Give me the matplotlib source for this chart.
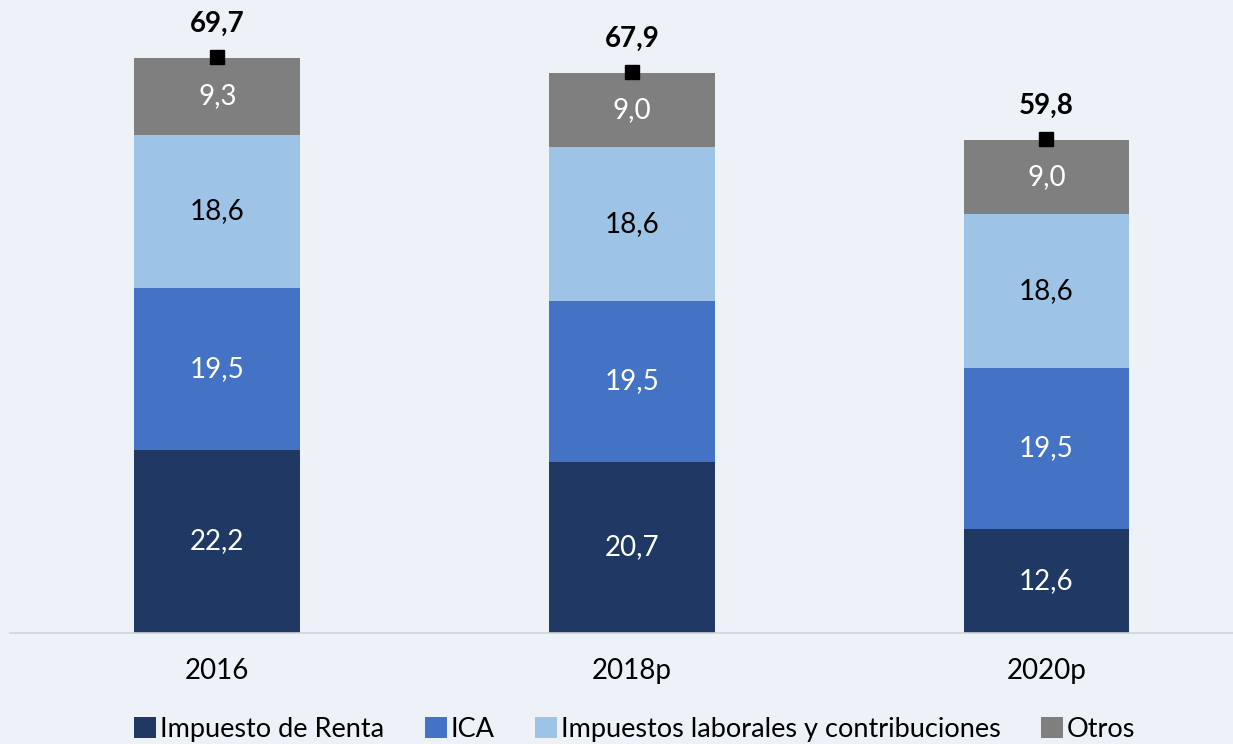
import matplotlib
matplotlib.use("Agg")
import matplotlib.pyplot as plt
import numpy as np

categories = ["2016", "2018p", "2020p"]
series_names = ["Impuesto de Renta", "ICA", "Impuestos laborales y contribuciones", "Otros"]
renta = [22.2, 20.7, 12.6]
ica = [19.5, 19.5, 19.5]
laborales = [18.6, 18.6, 18.6]
otros = [9.3, 9.0, 9.0]
totales = [69.7, 67.9, 59.8]

colors = ["#203864", "#4472C4", "#9DC3E6", "#7F7F7F"]
bg = "#EDF1F8"

plt.rcParams['font.family'] = ['Lato', 'DejaVu Sans']

fig = plt.figure(figsize=(12.33, 7.44), dpi=100, facecolor=bg)
W, H = 1233, 744
ax = fig.add_axes([10 / W, (H - 633) / H, (W - 10) / W, 633 / H])
ax.set_facecolor(bg)

x = np.arange(len(categories))
bottom = np.zeros(len(categories))
for name, vals, c in zip(series_names, [renta, ica, laborales, otros], colors):
    ax.bar(x, vals, 0.4, bottom=bottom, color=c, label=name, zorder=2)
    for xi, b, v in zip(x, bottom, vals):
        ax.text(xi, b + v / 2, f"{v:.1f}".replace(".", ","), ha="center", va="center",
                color="white" if c != "#9DC3E6" else "black", fontsize=20, zorder=3)
    bottom += np.array(vals)

ax.plot(x, totales, ls="none", marker="s", color="black", markersize=10, zorder=4)
for xi, t in zip(x, totales):
    ax.annotate(f"{t:.1f}".replace(".", ","), (xi, t), xytext=(0, 24), textcoords="offset points",
                ha="center", va="center", fontsize=20, fontweight="bold", zorder=4)

ax.set_xlim(-0.5, 2.45)
ax.set_ylim(0, 633 / 8.264)
for s in ["top", "right", "left"]:
    ax.spines[s].set_visible(False)
ax.spines["bottom"].set_color("#D0D4DA")
ax.spines["bottom"].set_linewidth(1.2)
ax.set_yticks([])
ax.set_xticks(x)
ax.set_xticklabels(categories, fontsize=20)
ax.tick_params(axis="x", length=0, pad=18)

leg = fig.legend(loc="lower center", bbox_to_anchor=(0.515, -0.03), ncol=4, frameon=False,
                 fontsize=19.5, handlelength=0.8, handleheight=0.8, handletextpad=0.15,
                 columnspacing=1.5)

fig.savefig("out.png", dpi=100, facecolor=bg)
